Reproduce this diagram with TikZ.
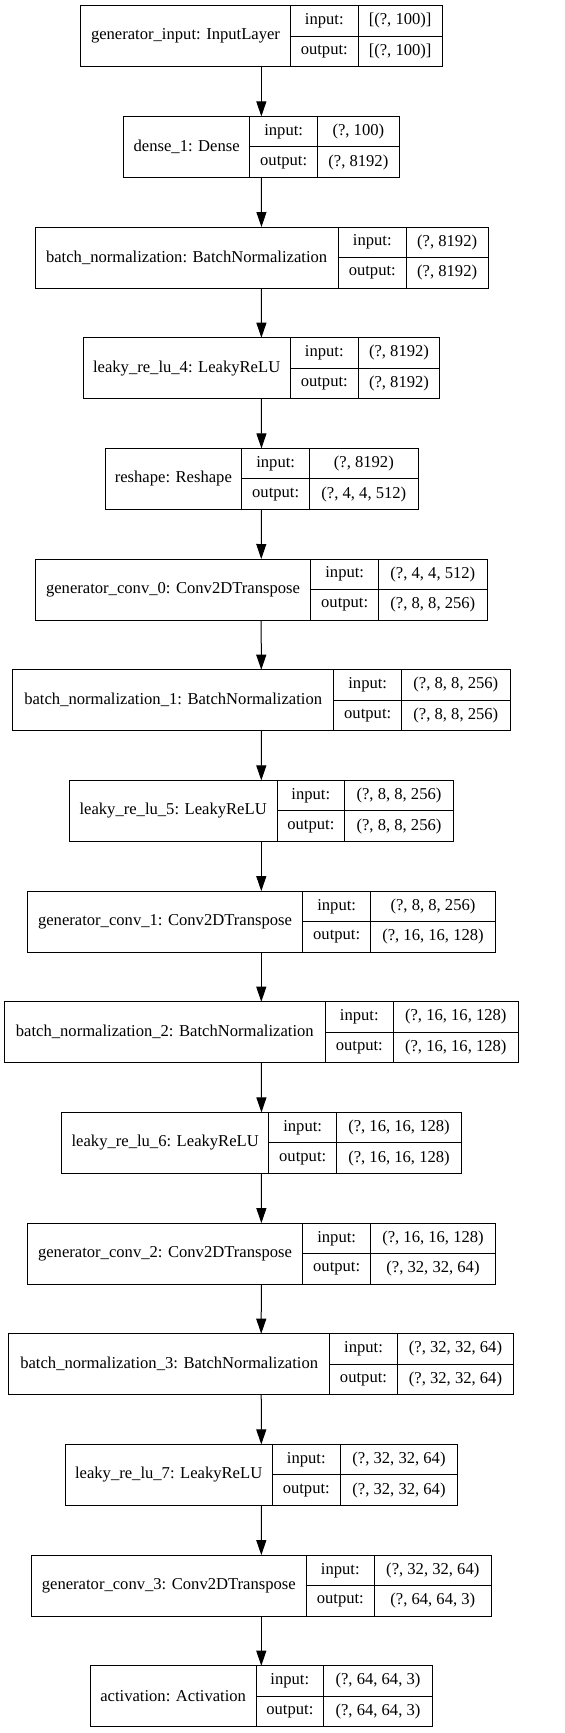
\documentclass[tikz,border=0pt]{standalone}
\usepackage{fontspec}
\setmainfont{Liberation Serif}
\usepackage{tikz}
\usetikzlibrary{arrows.meta}
\tikzset{
    box/.style={
        inner sep=0pt, outer sep=0pt, minimum height=61
    },
    cell/.style={
        draw, line width=1pt, inner sep=0pt, outer sep=0pt,
        font=\fontsize{16.6}{20}\selectfont
    },
    flow/.style={
        line width=1pt, -{Triangle[length=15pt,width=10pt]}
    }
}
\newcommand{\layerBox}[9] {
	\node[box, minimum width=#6-#3] (#1) at ({(#3+#6)/2},{-#2-30.5}) {};
	\node[cell, anchor=north west, minimum width=#4-#3, minimum height=61] (#1name) at (#1.north west) {#7};
	\node[cell, anchor=north west, minimum width=#5-#4, minimum height=30.5] (#1in) at (#1name.north east) {input:};
	\node[cell, anchor=north west, minimum width=#5-#4, minimum height=30.5] (#1out) at (#1in.south west) {output:};
	\node[cell, anchor=north west, minimum width=#6-#5, minimum height=30.5] (#1inval) at (#1in.north east) {#8};
	\node[cell, anchor=north west, minimum width=#6-#5, minimum height=30.5] (#1outval) at (#1inval.south west) {#9};
}

\begin{document}
\begin{tikzpicture}[x=1pt, y=1pt]
		\useasboundingbox (0,0) rectangle (565,-1733);

		% layers
		\layerBox{inp}{5.7}{80.7}{290.3}{358.3}{442}{generator\_input: InputLayer}{[(?, 100)]}{[(?, 100)]}
		\layerBox{dense}{116.4}{123.7}{249.7}{317.7}{399}{dense\_1: Dense}{(?, 100)}{(?, 8192)}
		\layerBox{bn}{227.0}{35}{338.3}{406.3}{488}{batch\_normalization: BatchNormalization}{(?, 8192)}{(?, 8192)}
		\layerBox{lrfour}{337.7}{83}{290.3}{358.3}{439.7}{leaky\_re\_lu\_4: LeakyReLU}{(?, 8192)}{(?, 8192)}
		\layerBox{resh}{448.4}{105}{241.7}{309.7}{418}{reshape: Reshape}{(?, 8192)}{(?, 4, 4, 512)}
		\layerBox{gczero}{559.0}{35.3}{310.7}{378.7}{487}{generator\_conv\_0: Conv2DTranspose}{(?, 4, 4, 512)}{(?, 8, 8, 256)}
		\layerBox{bnone}{669.7}{12.7}{333.7}{401.7}{510}{batch\_normalization\_1: BatchNormalization}{(?, 8, 8, 256)}{(?, 8, 8, 256)}
		\layerBox{lrfive}{780.4}{69.3}{277}{344.7}{453.3}{leaky\_re\_lu\_5: LeakyReLU}{(?, 8, 8, 256)}{(?, 8, 8, 256)}
		\layerBox{gcone}{891.1}{27.3}{302.7}{370.7}{495.3}{generator\_conv\_1: Conv2DTranspose}{(?, 8, 8, 256)}{(?, 16, 16, 128)}
		\layerBox{bntwo}{1001.7}{4.3}{325.3}{393.3}{518.3}{batch\_normalization\_2: BatchNormalization}{(?, 16, 16, 128)}{(?, 16, 16, 128)}
		\layerBox{lrsix}{1112.4}{61.7}{268.7}{336.7}{461.3}{leaky\_re\_lu\_6: LeakyReLU}{(?, 16, 16, 128)}{(?, 16, 16, 128)}
		\layerBox{gctwo}{1223.1}{27.3}{302.7}{370.7}{495.3}{generator\_conv\_2: Conv2DTranspose}{(?, 16, 16, 128)}{(?, 32, 32, 64)}
		\layerBox{bnthree}{1333.7}{8.7}{329.7}{397.3}{513.7}{batch\_normalization\_3: BatchNormalization}{(?, 32, 32, 64)}{(?, 32, 32, 64)}
		\layerBox{lrseven}{1444.4}{65}{272.3}{340.3}{457.7}{leaky\_re\_lu\_7: LeakyReLU}{(?, 32, 32, 64)}{(?, 32, 32, 64)}
		\layerBox{gcthree}{1555.1}{31.3}{306.3}{374.3}{491.3}{generator\_conv\_3: Conv2DTranspose}{(?, 32, 32, 64)}{(?, 64, 64, 3)}
		\layerBox{act}{1665.7}{90.3}{256}{323.7}{432.3}{activation: Activation}{(?, 64, 64, 3)}{(?, 64, 64, 3)}

		% arrows
		\draw[flow] (inp) -- (dense);
		\draw[flow] (dense) -- (bn);
		\draw[flow] (bn) -- (lrfour);
		\draw[flow] (lrfour) -- (resh);
		\draw[flow] (resh) -- (gczero);
		\draw[flow] (gczero) -- (bnone);
		\draw[flow] (bnone) -- (lrfive);
		\draw[flow] (lrfive) -- (gcone);
		\draw[flow] (gcone) -- (bntwo);
		\draw[flow] (bntwo) -- (lrsix);
		\draw[flow] (lrsix) -- (gctwo);
		\draw[flow] (gctwo) -- (bnthree);
		\draw[flow] (bnthree) -- (lrseven);
		\draw[flow] (lrseven) -- (gcthree);
		\draw[flow] (gcthree) -- (act);
\end{tikzpicture}
\end{document}
